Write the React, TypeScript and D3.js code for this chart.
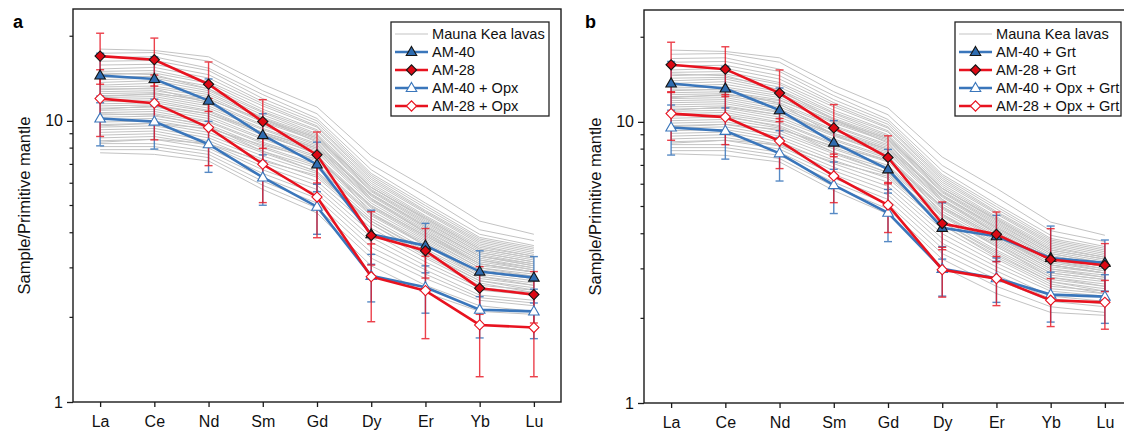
import React, { useRef, useEffect } from "react";
import * as d3 from "d3";

const elements = ["La", "Ce", "Nd", "Sm", "Gd", "Dy", "Er", "Yb", "Lu"];

// Mauna Kea lavas (grey field), one row per sample, La..Lu
const maunaKea: number[][] = [
  [18.0, 17.8, 16.9, 13.5, 11.2, 7.5, 5.8, 4.4, 3.95],
  [17.4, 17.5, 16.3, 12.8, 10.6, 7.0, 5.4, 4.1, 3.75],
  [16.8, 16.9, 15.4, 12.4, 10.2, 6.7, 5.1, 3.95, 3.6],
  [16.3, 16.4, 15.1, 12.0, 10.0, 6.5, 5.0, 3.85, 3.55],
  [15.8, 15.9, 14.6, 11.7, 9.8, 6.4, 4.9, 3.8, 3.5],
  [15.3, 15.5, 14.2, 11.5, 9.6, 6.3, 4.8, 3.75, 3.45],
  [15.0, 15.1, 13.8, 11.3, 9.5, 6.2, 4.75, 3.7, 3.4],
  [14.6, 14.8, 13.6, 11.0, 9.3, 6.1, 4.7, 3.65, 3.35],
  [14.3, 14.4, 13.3, 10.8, 9.2, 6.0, 4.6, 3.6, 3.3],
  [14.0, 14.2, 13.0, 10.7, 9.0, 5.9, 4.55, 3.55, 3.3],
  [13.7, 13.9, 12.8, 10.5, 8.9, 5.8, 4.5, 3.5, 3.25],
  [13.4, 13.6, 12.6, 10.3, 8.8, 5.8, 4.45, 3.45, 3.2],
  [13.2, 13.3, 12.4, 10.2, 8.7, 5.7, 4.4, 3.4, 3.15],
  [12.9, 13.1, 12.2, 10.0, 8.6, 5.65, 4.35, 3.4, 3.15],
  [12.7, 12.8, 12.0, 9.9, 8.5, 5.6, 4.3, 3.35, 3.1],
  [12.5, 12.6, 11.7, 9.7, 8.3, 5.5, 4.25, 3.3, 3.05],
  [12.3, 12.4, 11.5, 9.6, 8.2, 5.45, 4.2, 3.3, 3.05],
  [12.1, 12.2, 11.3, 9.4, 8.1, 5.4, 4.15, 3.25, 3.0],
  [11.9, 12.0, 11.1, 9.3, 8.0, 5.3, 4.1, 3.2, 3.0],
  [11.7, 11.8, 10.9, 9.1, 7.9, 5.25, 4.05, 3.2, 2.95],
  [11.5, 11.6, 10.8, 9.0, 7.8, 5.2, 4.0, 3.15, 2.95],
  [11.3, 11.4, 10.6, 8.9, 7.7, 5.1, 3.95, 3.1, 2.9],
  [11.1, 11.2, 10.4, 8.7, 7.5, 5.0, 3.9, 3.05, 2.9],
  [10.9, 11.0, 10.2, 8.6, 7.4, 4.95, 3.85, 3.0, 2.85],
  [10.7, 10.8, 10.0, 8.4, 7.3, 4.9, 3.8, 3.0, 2.8],
  [10.5, 10.6, 9.9, 8.3, 7.2, 4.8, 3.75, 2.95, 2.8],
  [10.3, 10.4, 9.7, 8.1, 7.0, 4.7, 3.7, 2.9, 2.75],
  [10.1, 10.2, 9.5, 8.0, 6.9, 4.65, 3.65, 2.9, 2.75],
  [9.9, 10.0, 9.3, 7.8, 6.8, 4.6, 3.6, 2.85, 2.7],
  [9.7, 9.8, 9.1, 7.7, 6.6, 4.5, 3.5, 2.8, 2.65],
  [9.5, 9.6, 8.9, 7.5, 6.5, 4.4, 3.45, 2.75, 2.6],
  [9.3, 9.4, 8.7, 7.3, 6.3, 4.3, 3.35, 2.7, 2.55],
  [9.1, 9.2, 8.5, 7.1, 6.1, 4.15, 3.25, 2.6, 2.5],
  [8.9, 9.0, 8.3, 6.9, 5.9, 4.0, 3.15, 2.55, 2.45],
  [8.7, 8.8, 8.2, 6.7, 5.7, 3.85, 3.05, 2.5, 2.4],
  [8.5, 8.6, 8.0, 6.5, 5.5, 3.7, 2.95, 2.4, 2.3],
  [8.3, 8.3, 7.8, 6.3, 5.3, 3.55, 2.85, 2.35, 2.25],
  [8.1, 8.1, 7.6, 6.1, 5.1, 3.4, 2.75, 2.3, 2.2],
  [7.9, 7.9, 7.4, 5.9, 4.9, 3.25, 2.6, 2.2, 2.1],
  [7.7, 7.6, 7.2, 5.7, 4.7, 3.05, 2.45, 2.1, 2.05],
  [9.6, 9.8, 9.4, 8.2, 7.3, 5.0, 3.9, 3.1, 2.9],
  [13.0, 13.0, 11.6, 9.0, 7.6, 4.7, 3.6, 2.8, 2.6],
  [11.0, 11.3, 10.6, 9.1, 8.0, 5.5, 4.2, 3.3, 3.1],
  [14.8, 14.6, 13.0, 10.2, 8.4, 5.3, 4.0, 3.1, 2.9],
  [8.4, 8.6, 8.3, 7.2, 6.4, 4.4, 3.4, 2.7, 2.5],
  [12.2, 12.5, 11.9, 10.1, 8.7, 5.8, 4.5, 3.5, 3.25],
  [10.6, 10.5, 9.6, 7.8, 6.6, 4.3, 3.3, 2.65, 2.45],
];

// panel a
const am40 = [14.5, 14.1, 11.8, 8.9, 7.0, 3.95, 3.6, 2.91, 2.77];
const am40Err = [2.9, 2.8, 2.3, 1.7, 1.4, 0.86, 0.72, 0.54, 0.52];
const am28 = [17.0, 16.5, 13.5, 9.94, 7.57, 3.91, 3.45, 2.54, 2.41];
const am28Err = [3.5, 3.2, 2.7, 1.96, 1.56, 0.84, 0.69, 0.49, 0.5];
const am40Opx = [10.2, 9.94, 8.26, 6.29, 4.95, 2.81, 2.56, 2.13, 2.1];
const am40OpxErr = [2.05, 2.0, 1.7, 1.28, 1.0, 0.54, 0.49, 0.44, 0.42];
const am28Opx = [12.0, 11.56, 9.47, 7.01, 5.36, 2.79, 2.49, 1.88, 1.84];
const am28OpxErr = [3.2, 3.0, 2.54, 1.89, 1.52, 0.86, 0.81, 0.65, 0.61];

// panel b
const am40Grt = [13.7, 13.15, 11.0, 8.44, 6.78, 4.2, 3.92, 3.28, 3.15];
const am40GrtErr = [2.7, 2.6, 2.2, 1.66, 1.2, 0.95, 0.73, 0.98, 0.65];
const am28Grt = [15.96, 15.4, 12.66, 9.52, 7.47, 4.35, 3.98, 3.24, 3.09];
const am28GrtErr = [3.24, 3.1, 2.64, 2.0, 1.45, 0.84, 0.8, 0.93, 0.6];
const am40OpxGrt = [9.55, 9.29, 7.73, 5.96, 4.75, 3.0, 2.78, 2.43, 2.39];
const am40OpxGrtErr = [1.93, 1.92, 1.57, 1.24, 1.0, 0.6, 0.5, 0.49, 0.47];
const am28OpxGrt = [10.7, 10.4, 8.55, 6.42, 5.06, 2.98, 2.77, 2.32, 2.28];
const am28OpxGrtErr = [2.1, 2.1, 1.73, 1.26, 1.02, 0.6, 0.55, 0.45, 0.45];

const yTicks = [1, 10];
const yMinor = [2, 3, 4, 5, 6, 7, 8, 9, 20];

const BLUE = "#3a76bb";
const RED = "#e8121f";
const FONT = "'Liberation Sans', Arial, sans-serif";

type Series = {
  name: string;
  values: number[];
  err: number[];
  color: string;
  shape: "tri" | "dia";
  filled: boolean;
};

const mkSeries = (
  name: string,
  values: number[],
  err: number[],
  color: string,
  shape: "tri" | "dia",
  filled: boolean
): Series => ({ name, values, err, color, shape, filled });

const panels = [
  {
    tag: "a",
    tagX: 13,
    left: 73,
    top: 9,
    bottom: 402,
    legendX: 391,
    legendW: 158,
    series: [
      mkSeries("AM-40", am40, am40Err, BLUE, "tri", true),
      mkSeries("AM-28", am28, am28Err, RED, "dia", true),
      mkSeries("AM-40 + Opx", am40Opx, am40OpxErr, BLUE, "tri", false),
      mkSeries("AM-28 + Opx", am28Opx, am28OpxErr, RED, "dia", false),
    ],
  },
  {
    tag: "b",
    tagX: 585,
    left: 644,
    top: 10,
    bottom: 403,
    legendX: 955,
    legendW: 166,
    series: [
      mkSeries("AM-40 + Grt", am40Grt, am40GrtErr, BLUE, "tri", true),
      mkSeries("AM-28 + Grt", am28Grt, am28GrtErr, RED, "dia", true),
      mkSeries("AM-40 + Opx + Grt", am40OpxGrt, am40OpxGrtErr, BLUE, "tri", false),
      mkSeries("AM-28 + Opx + Grt", am28OpxGrt, am28OpxGrtErr, RED, "dia", false),
    ],
  },
];

const triPath = d3.symbol().type(d3.symbolTriangle).size(48)();
const diaPath = d3.symbol().type(d3.symbolSquare).size(52)();

const drawMarker = (g: any, s: Series, x: number, y: number) => {
  const fill = s.filled ? (s.shape === "tri" ? "#2f6cb0" : "#dc0914") : "#fff";
  const stroke = s.filled ? "#151515" : s.color;
  g.append("path")
    .attr("d", s.shape === "tri" ? triPath : diaPath)
    .attr(
      "transform",
      s.shape === "tri"
        ? `translate(${x},${y + 0.5})`
        : `translate(${x},${y}) rotate(45)`
    )
    .attr("fill", fill)
    .attr("stroke", stroke)
    .attr("stroke-width", 1.1);
};

const App = () => {
  const svgRef = useRef(null);

  useEffect(() => {
    const w = 1124;
    const h = 434;
    const svg = d3.select(svgRef.current).attr("width", w).attr("height", h);
    svg.selectAll("*").remove();

    panels.forEach((p) => {
      const right = p.left + 488;
      const x = d3.scalePoint().domain(elements).range([p.left, right]).padding(0.5);
      const y = d3.scaleLog().domain([1, 25]).range([p.bottom, p.top]);
      const g = svg.append("g");

      const line = d3
        .line<number>()
        .x((_, i) => x(elements[i]) as number)
        .y((d) => y(d));

      // grey field
      g.append("g")
        .selectAll("path")
        .data(maunaKea)
        .enter()
        .append("path")
        .attr("d", (d) => line(d))
        .attr("fill", "none")
        .attr("stroke", "#c3c3c3")
        .attr("stroke-width", 1);

      // error bars
      p.series.forEach((s) => {
        const eg = g
          .append("g")
          .attr("stroke", s.color)
          .attr("stroke-width", 1.4)
          .attr("opacity", s.color === RED ? 0.8 : 0.85);
        s.values.forEach((v, i) => {
          const cx = x(elements[i]) as number;
          const y0 = y(v + s.err[i]);
          const y1 = y(Math.max(v - s.err[i], 1.01));
          eg.append("line").attr("x1", cx).attr("x2", cx).attr("y1", y0).attr("y2", y1);
          eg.append("line").attr("x1", cx - 4).attr("x2", cx + 4).attr("y1", y0).attr("y2", y0);
          eg.append("line").attr("x1", cx - 4).attr("x2", cx + 4).attr("y1", y1).attr("y2", y1);
        });
      });

      // series lines and markers
      p.series.forEach((s) => {
        g.append("path")
          .attr("d", line(s.values))
          .attr("fill", "none")
          .attr("stroke", s.color)
          .attr("stroke-width", 2.6);
        s.values.forEach((v, i) => drawMarker(g, s, x(elements[i]) as number, y(v)));
      });

      // frame
      g.append("rect")
        .attr("x", p.left)
        .attr("y", p.top)
        .attr("width", right - p.left)
        .attr("height", p.bottom - p.top)
        .attr("fill", "none")
        .attr("stroke", "#1a1a1a")
        .attr("stroke-width", 1.4);

      // x axis
      const xAxis = g
        .append("g")
        .attr("transform", `translate(0,${p.bottom})`)
        .call(d3.axisBottom(x).tickSize(5).tickPadding(9));
      xAxis.select(".domain").remove();
      xAxis.selectAll(".tick line").attr("stroke", "#1a1a1a").attr("stroke-width", 1.3);
      xAxis
        .selectAll(".tick text")
        .attr("font-size", "16px")
        .attr("font-family", FONT)
        .attr("fill", "#111");

      // y axis
      const yAxis = g
        .append("g")
        .attr("transform", `translate(${p.left},0)`)
        .call(
          d3
            .axisLeft(y)
            .tickValues(yTicks)
            .tickFormat(d3.format("d"))
            .tickSize(6)
            .tickPadding(4)
        );
      yAxis.select(".domain").remove();
      yAxis.selectAll(".tick line").attr("stroke", "#1a1a1a").attr("stroke-width", 1.3);
      yAxis
        .selectAll(".tick text")
        .attr("font-size", "16px")
        .attr("font-family", FONT)
        .attr("fill", "#111");
      g.append("g")
        .selectAll("line")
        .data(yMinor)
        .enter()
        .append("line")
        .attr("x1", p.left - 3.5)
        .attr("x2", p.left)
        .attr("y1", (d) => y(d))
        .attr("y2", (d) => y(d))
        .attr("stroke", "#1a1a1a")
        .attr("stroke-width", 1.2);

      g.append("text")
        .attr("transform", `translate(${p.left - 43},${(p.top + p.bottom) / 2}) rotate(-90)`)
        .attr("text-anchor", "middle")
        .attr("font-size", "16.5px")
        .attr("font-family", FONT)
        .attr("fill", "#111")
        .text("Sample/Primitive mantle");

      g.append("text")
        .attr("x", p.tagX)
        .attr("y", 28)
        .attr("font-size", "18px")
        .attr("font-weight", "bold")
        .attr("font-family", FONT)
        .text(p.tag);

      // legend
      const lg = g.append("g").attr("transform", `translate(${p.legendX},22)`);
      lg.append("rect")
        .attr("width", p.legendW)
        .attr("height", 94)
        .attr("fill", "#fff")
        .attr("stroke", "#222")
        .attr("stroke-width", 1.3);
      const rows = [{ name: "Mauna Kea lavas", s: null as Series | null }].concat(
        p.series.map((s) => ({ name: s.name, s }))
      );
      rows.forEach((r, i) => {
        const ry = 12 + i * 18;
        lg.append("line")
          .attr("x1", 4)
          .attr("x2", 37)
          .attr("y1", ry)
          .attr("y2", ry)
          .attr("stroke", r.s ? r.s.color : "#c3c3c3")
          .attr("stroke-width", r.s ? 2.6 : 1);
        if (r.s) drawMarker(lg, r.s, 20.5, ry);
        lg.append("text")
          .attr("x", 41)
          .attr("y", ry + 5)
          .attr("font-size", "14.6px")
          .attr("font-family", FONT)
          .attr("fill", "#111")
          .text(r.name);
      });
    });
  }, []);

  return (
    <svg
      ref={svgRef}
      style={{ position: "absolute", left: 0, top: 0, background: "#fff" }}
    ></svg>
  );
};

export default App;
